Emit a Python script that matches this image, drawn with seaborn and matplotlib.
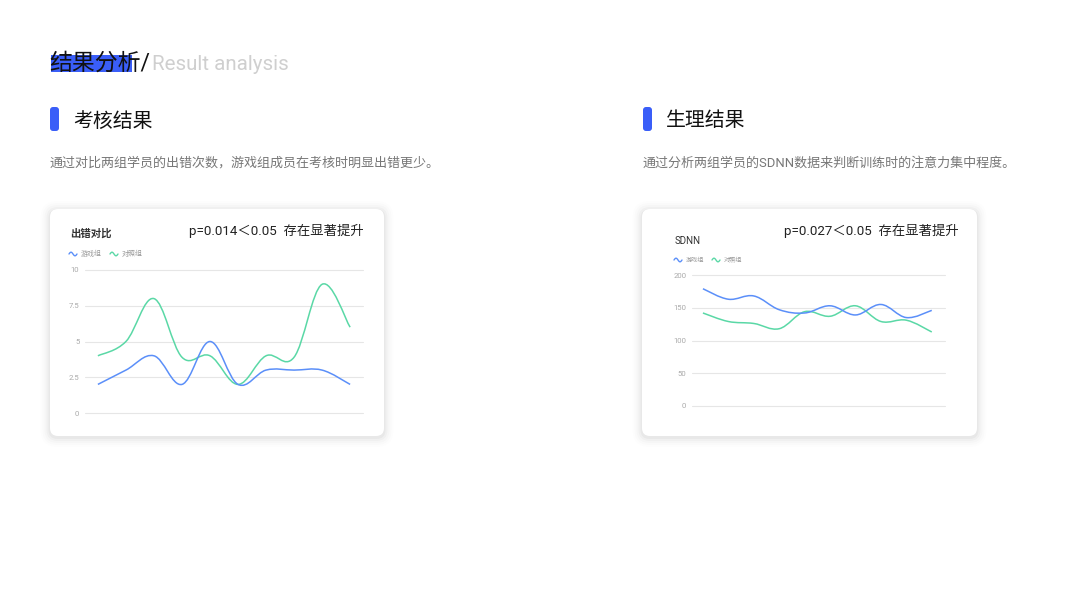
import numpy as np
import matplotlib
matplotlib.use("Agg")
import matplotlib.pyplot as plt
import seaborn as sns
from matplotlib.path import Path
from matplotlib.patches import PathPatch, FancyBboxPatch, Rectangle

# data
rounds = list(range(10))
err_game = [2, 3, 4, 2, 5, 2, 3, 3, 3, 2]
err_ctrl = [4, 5, 8, 3.9, 4, 2, 4, 3.9, 9, 6]
err_ticks = [0, 2.5, 5, 7.5, 10]
err_labels = ["0", "2.5", "5", "7.5", "10"]

sdnn_game = [179, 163, 168, 147, 142, 153, 139, 155, 135, 146]
sdnn_ctrl = [142, 129, 126, 118, 144, 137, 153, 129, 131, 113]
sdnn_ticks = [0, 50, 100, 150, 200]
sdnn_labels = ["0", "50", "100", "150", "200"]

series_names = ["游戏组", "对照组"]
BLUE = "#5B8FF9"
GREEN = "#5AD8A6"
ACCENT = "#3A5EF8"

W, H = 1076, 600

sns.set_theme(style="white")
plt.rcParams['font.family'] = ['Roboto', 'Noto Sans CJK SC', 'DejaVu Sans']


def smooth_path(xs, ys, k=0.18):
    # cubic bezier through the data points (echarts-like smooth line)
    pts = np.column_stack([xs, ys]).astype(float)
    n = len(pts)
    verts = [pts[0]]
    codes = [Path.MOVETO]
    for i in range(n - 1):
        p0 = pts[max(i - 1, 0)]
        p1 = pts[i]
        p2 = pts[i + 1]
        p3 = pts[min(i + 2, n - 1)]
        verts += [p1 + (p2 - p0) * k, p2 - (p3 - p1) * k, p2]
        codes += [Path.CURVE4] * 3
    return Path(verts, codes)


def card(bg, x0, y0, x1, y1):
    for i, a in enumerate([0.03, 0.022, 0.016, 0.012, 0.008]):
        s = 1.5 + i * 2
        bg.add_patch(FancyBboxPatch((x0 - s, y0 - s + 1.5), x1 - x0 + 2 * s, y1 - y0 + 2 * s,
                                    boxstyle="round,pad=0,rounding_size=%d" % (8 + s),
                                    fc="black", ec="none", alpha=a, zorder=1))
    bg.add_patch(FancyBboxPatch((x0, y0), x1 - x0, y1 - y0,
                                boxstyle="round,pad=0,rounding_size=8",
                                fc="white", ec="none", zorder=2))


def wave(bg, x, y, color):
    t = np.linspace(0, 1, 30)
    bg.plot(x + t * 8, y - 1.8 * np.sin(2 * np.pi * t), color=color, lw=1.0, zorder=3)


def legend(bg, x, y, fs, gap):
    wave(bg, x, y, BLUE)
    bg.text(x + 12, y, series_names[0], fontsize=fs, color="#999999", va="center", zorder=3)
    wave(bg, x + gap, y, GREEN)
    bg.text(x + gap + 12, y, series_names[1], fontsize=fs, color="#999999", va="center", zorder=3)


def section(bg, x, title, desc):
    bg.add_patch(FancyBboxPatch((x, 107), 9, 24, boxstyle="round,pad=0,rounding_size=3",
                                fc=ACCENT, ec="none", zorder=3))
    bg.text(x + 23, 121, title, fontsize=14.3, color="#111111", va="center", zorder=3)
    bg.text(x, 163, desc, fontsize=9.4, color="#777777", va="center", zorder=3)


def line_chart(fig, rect, xlim, ylim, ticks, labels, game, ctrl):
    ax = fig.add_axes(rect)
    ax.set_facecolor("none")
    ax.set_xlim(*xlim)
    ax.set_ylim(*ylim)
    ax.set_yticks(ticks)
    ax.set_yticklabels(labels)
    ax.set_xticks([])
    ax.tick_params(axis="y", length=0, pad=4, labelsize=5.6, labelcolor="#aaaaaa")
    ax.yaxis.grid(True, color="#e6e6e6", lw=0.8)
    for gl in ax.get_ygridlines():
        gl.set_clip_on(False)
    sns.despine(ax=ax, left=True, bottom=True)
    for vals, color in [(ctrl, GREEN), (game, BLUE)]:
        ax.add_patch(PathPatch(smooth_path(rounds, vals), fill=False, ec=color, lw=1.1, clip_on=False))
    return ax


fig = plt.figure(figsize=(W / 100, H / 100), dpi=100)
fig.patch.set_facecolor("white")

bg = fig.add_axes([0, 0, 1, 1])
bg.set_xlim(0, W)
bg.set_ylim(H, 0)
bg.axis("off")

# page title
bg.add_patch(Rectangle((51, 55), 81, 17, fc=ACCENT, ec="none", zorder=2))
bg.text(49, 63, "结果分析/", fontsize=16.5, color="#111111", va="center", zorder=3)
bg.text(152, 64, "Result analysis", fontsize=14.8, color="#cfcfcf", va="center", zorder=3)

section(bg, 50, "考核结果", "通过对比两组学员的出错次数，游戏组成员在考核时明显出错更少。")
section(bg, 643, "生理结果", "通过分析两组学员的SDNN数据来判断训练时的注意力集中程度。")

# left card
card(bg, 50, 209, 384, 436)
bg.text(70, 234, "出错对比", fontsize=7.5, color="#333333", va="center", fontweight="bold", zorder=3)
bg.text(364, 231, "p=0.014＜0.05  存在显著提升", fontsize=9.6, color="#222222",
        ha="right", va="center", zorder=3)
legend(bg, 69, 254, 5, 41)

# right card
card(bg, 642, 209, 977, 436)
bg.text(675, 241, "SDNN", fontsize=7, color="#333333", va="center", zorder=3)
bg.text(959, 231, "p=0.027＜0.05  存在显著提升", fontsize=9.6, color="#222222",
        ha="right", va="center", zorder=3)
legend(bg, 674, 260, 4.4, 38)

line_chart(fig, [85 / W, (H - 413) / H, 278 / W, 143 / H], (-0.46, 9.46), (0, 10),
           err_ticks, err_labels, err_game, err_ctrl)
line_chart(fig, [692 / W, (H - 406) / H, 253 / W, 131 / H], (-0.43, 9.52), (0, 200),
           sdnn_ticks, sdnn_labels, sdnn_game, sdnn_ctrl)

fig.savefig("out.png", dpi=100, facecolor="white")
